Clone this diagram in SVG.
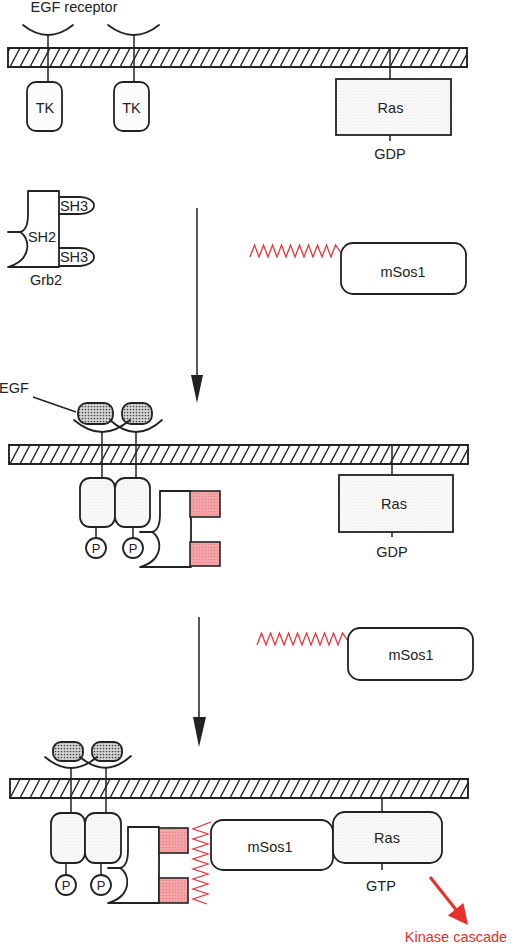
<svg xmlns="http://www.w3.org/2000/svg" width="512" height="946" viewBox="0 0 512 946">
<style>
.ln{fill:none;stroke:#222;stroke-width:1.8;stroke-linejoin:round;stroke-linecap:round}
.thin{fill:none;stroke:#222;stroke-width:1.5}
.box{stroke:#222;stroke-width:1.8}
.t{font-family:"Liberation Sans",Arial,sans-serif;font-size:14.5px;fill:#222;text-anchor:middle}
.tp{font-family:"Liberation Sans",Arial,sans-serif;font-size:13px;fill:#222;text-anchor:middle}
.red{fill:none;stroke:#e8343a;stroke-width:1.3;stroke-linejoin:miter}
.sq{fill:url(#pink);stroke:#222;stroke-width:1.6}
.mem{fill:url(#hatch);stroke:#222;stroke-width:1.8}
.end{stroke:#222;stroke-width:1.5;stroke-dasharray:2 2}
</style>
<defs>
<pattern id="hatch" patternUnits="userSpaceOnUse" width="10" height="19">
<rect width="10" height="19" fill="#fff"/>
<path d="M0,19 L10,0 M-10,19 L0,0 M10,19 L20,0" stroke="#222" stroke-width="1.3"/>
</pattern>
<pattern id="dots" patternUnits="userSpaceOnUse" width="3" height="3">
<rect width="3" height="3" fill="#d6d6d6"/>
<circle cx="1.5" cy="1.5" r="0.85" fill="#444"/>
</pattern>
<pattern id="light" patternUnits="userSpaceOnUse" width="3" height="3">
<rect width="3" height="3" fill="#f8f8f8"/>
<circle cx="1.5" cy="1.5" r="0.45" fill="#e2e2e2"/>
</pattern>
<pattern id="pink" patternUnits="userSpaceOnUse" width="3" height="3">
<rect width="3" height="3" fill="#f4a4a6"/>
<circle cx="1.5" cy="1.5" r="0.6" fill="#e07a80"/>
</pattern>
<path id="grb2body" d="M59,191 H28 V214 C28,226 25,231 20,232 H8 M20,232 C30,237 33,260 8,267 H59 V191"/>
</defs>
<rect width="512" height="946" fill="#fff"/>

<!-- Panel 1 -->
<g id="membrane1" transform="translate(0,48)">
<rect class="mem" x="8" y="0" width="459" height="19" stroke="none"/>
<line class="ln" x1="8" y1="0" x2="467" y2="0"/>
<line class="ln" x1="8" y1="19" x2="467" y2="19"/>
<line class="end" x1="8" y1="0" x2="8" y2="19"/>
<line class="end" x1="467" y1="0" x2="467" y2="19"/>
</g>
<text class="t" x="74" y="12">EGF receptor</text>
<g id="receptor1a">
<path class="ln" d="M23,25 Q48,45 73,25"/>
<line class="thin" x1="48" y1="35" x2="48" y2="82"/>
<rect class="box" x="27" y="82" width="35" height="49" rx="9" fill="#fcfcfc"/>
<text class="t" x="45" y="113">TK</text>
</g>
<g id="receptor1b">
<path class="ln" d="M108,25 Q134,45 159,25"/>
<line class="thin" x1="134" y1="35" x2="134" y2="82"/>
<rect class="box" x="114" y="82" width="35" height="49" rx="9" fill="#fcfcfc"/>
<text class="t" x="131.5" y="113">TK</text>
</g>
<g id="ras1">
<line class="thin" x1="390" y1="48" x2="390" y2="79"/>
<rect class="box" x="336" y="79" width="115" height="56" fill="url(#light)"/>
<line class="thin" x1="390" y1="135" x2="390" y2="141"/>
<text class="t" x="390.5" y="113">Ras</text>
<text class="t" x="390" y="159">GDP</text>
</g>

<!-- Panel 2 -->
<g id="grb2">
<use href="#grb2body" class="ln"/>
<path class="ln" d="M59,197 H80 A14,8.5 0 0 1 80,214 H59"/>
<path class="ln" d="M59,248 H80 A14,9 0 0 1 80,266 H59"/>
<text class="t" x="42" y="242">SH2</text>
<text class="t" x="74" y="210.5">SH3</text>
<text class="t" x="74" y="262">SH3</text>
<text class="t" x="46" y="285">Grb2</text>
</g>
<g id="msos1a">
<polyline class="red" points="250,257 254.5,245 259,257 263.5,245 268,257 272.5,245 277,257 281.5,245 286,257 290.5,245 295,257 299.5,245 304,257 308.5,245 313,257 317.5,245 322,257 326.5,245 331,257 335.5,245 341,253"/>
<rect class="box" x="341" y="243" width="125" height="51" rx="12" fill="#fff"/>
<text class="t" x="403" y="277">mSos1</text>
</g>

<g id="connectors">
<line class="thin" x1="197" y1="208" x2="197" y2="378"/>
<polygon points="191,375 203,375 197,403" fill="#222"/>
<line class="thin" x1="199" y1="617" x2="199" y2="720"/>
<polygon points="193,717 206,717 199,747" fill="#222"/>
<line stroke="#e8302c" stroke-width="3" x1="430" y1="877" x2="457" y2="911"/>
<polygon points="468,925 447.8,915.5 463.4,903.1" fill="#e8302c"/>
<line class="thin" x1="33" y1="397" x2="76" y2="412"/>
</g>

<!-- Panel 3 -->
<g id="membrane2" transform="translate(0,445)">
<rect class="mem" x="9" y="0" width="459" height="19" stroke="none"/>
<line class="ln" x1="9" y1="0" x2="468" y2="0"/>
<line class="ln" x1="9" y1="19" x2="468" y2="19"/>
<line class="end" x1="9" y1="0" x2="9" y2="19"/>
<line class="end" x1="468" y1="0" x2="468" y2="19"/>
</g>
<text class="t" x="14" y="393">EGF</text>
<g id="receptor2">
<rect class="box" x="78" y="403" width="35" height="21" rx="9" fill="url(#dots)"/>
<rect class="box" x="122" y="403" width="30" height="21" rx="9" fill="url(#dots)"/>
<path class="ln" d="M74,420 Q102,444 130,420"/>
<path class="ln" d="M110,420 Q136,444 162,420"/>
<line class="thin" x1="102" y1="432" x2="102" y2="478"/>
<line class="thin" x1="136" y1="432" x2="136" y2="478"/>
<rect class="box" x="80" y="478" width="35" height="49" rx="10" fill="url(#light)"/>
<rect class="box" x="115" y="478" width="35" height="49" rx="10" fill="url(#light)"/>
<line class="thin" x1="96" y1="527" x2="96" y2="538"/>
<line class="thin" x1="133" y1="527" x2="133" y2="538"/>
<circle class="box" cx="96" cy="548" r="10" fill="#fff"/>
<circle class="box" cx="133" cy="548" r="10" fill="#fff"/>
<text class="tp" x="96" y="553">P</text>
<text class="tp" x="133" y="553">P</text>
</g>
<g id="grb2b">
<use href="#grb2body" class="ln" transform="translate(132,300)"/>
<rect class="sq" x="190" y="491" width="30" height="26"/>
<rect class="sq" x="190" y="542" width="30" height="24"/>
</g>
<g id="ras2">
<line class="thin" x1="392" y1="445" x2="392" y2="475"/>
<rect class="box" x="339" y="475" width="114" height="57" fill="url(#light)"/>
<line class="thin" x1="392" y1="532" x2="392" y2="537"/>
<text class="t" x="394" y="509">Ras</text>
<text class="t" x="392" y="557">GDP</text>
</g>
<g id="msos1b">
<polyline class="red" points="257,645 261.5,633 266,645 270.5,633 275,645 279.5,633 284,645 288.5,633 293,645 297.5,633 302,645 306.5,633 311,645 315.5,633 320,645 324.5,633 329,645 333.5,633 338,645 342.5,633 348,641"/>
<rect class="box" x="348" y="628" width="125" height="52" rx="12" fill="#fff"/>
<text class="t" x="411" y="660">mSos1</text>
</g>

<!-- Panel 4 -->
<g id="membrane3" transform="translate(0,779)">
<rect class="mem" x="10" y="0" width="458" height="19" stroke="none"/>
<line class="ln" x1="10" y1="0" x2="468" y2="0"/>
<line class="ln" x1="10" y1="19" x2="468" y2="19"/>
<line class="end" x1="10" y1="0" x2="10" y2="19"/>
<line class="end" x1="468" y1="0" x2="468" y2="19"/>
</g>
<g id="receptor3">
<rect class="box" x="53" y="742" width="30" height="19" rx="8" fill="url(#dots)"/>
<rect class="box" x="92" y="742" width="30" height="19" rx="8" fill="url(#dots)"/>
<path class="ln" d="M45,757 Q71,779 97,757"/>
<path class="ln" d="M80,757 Q106,779 131,756"/>
<line class="thin" x1="71" y1="768" x2="71" y2="813"/>
<line class="thin" x1="106" y1="768" x2="106" y2="813"/>
<rect class="box" x="51" y="813" width="34" height="50" rx="10" fill="url(#light)"/>
<rect class="box" x="85" y="813" width="36" height="50" rx="10" fill="url(#light)"/>
<line class="thin" x1="66" y1="863" x2="66" y2="875"/>
<line class="thin" x1="101" y1="863" x2="101" y2="875"/>
<circle class="box" cx="66" cy="885" r="10" fill="#fff"/>
<circle class="box" cx="101" cy="885" r="10" fill="#fff"/>
<text class="tp" x="66" y="890">P</text>
<text class="tp" x="101" y="890">P</text>
</g>
<g id="grb2c">
<use href="#grb2body" class="ln" transform="translate(100,636)"/>
<rect class="sq" x="159" y="828" width="29" height="25"/>
<rect class="sq" x="159" y="878" width="29" height="25"/>
</g>
<g id="msos1c">
<polyline class="red" points="211,822 193,829 208,834 193,839 208,844 193,849 208,854 193,859 208,864 193,869 208,874 193,879 208,884 193,889 208,894 193,899 207,904"/>
<rect class="box" x="211" y="820" width="122" height="50" rx="12" fill="#fff"/>
<text class="t" x="270" y="852">mSos1</text>
</g>
<g id="ras3">
<line class="thin" x1="382" y1="798" x2="382" y2="812"/>
<rect class="box" x="333" y="812" width="109" height="51" rx="12" fill="url(#light)"/>
<line class="thin" x1="382" y1="863" x2="382" y2="870"/>
<text class="t" x="387" y="843">Ras</text>
<text class="t" x="381" y="891">GTP</text>
</g>
<text class="t" x="456" y="942" style="fill:#e8302c">Kinase cascade</text>
</svg>
